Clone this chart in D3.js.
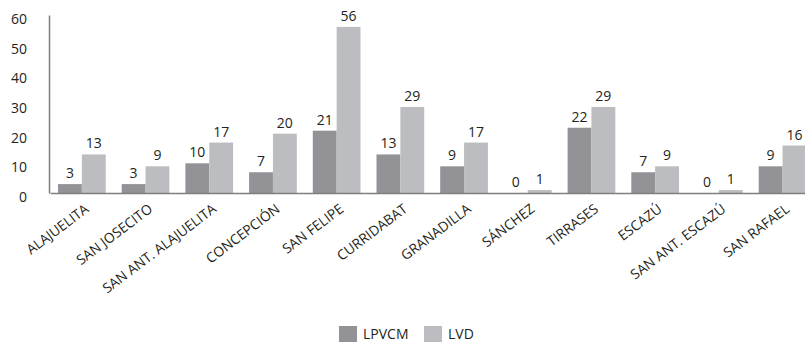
<!DOCTYPE html>
<html><head><meta charset="utf-8">
<script src="https://cdn.jsdelivr.net/npm/d3@7/dist/d3.min.js"></script>
<style>body{margin:0;background:#fff}svg{display:block}text{font-family:"Open Sans",sans-serif;fill:#231f20}</style>
</head><body><svg id="c" width="805" height="343"></svg>
<script>
const categories = ["ALAJUELITA","SAN JOSECITO","SAN ANT. ALAJUELITA","CONCEPCIÓN","SAN FELIPE","CURRIDABAT","GRANADILLA","SÁNCHEZ","TIRRASES","ESCAZÚ","SAN ANT. ESCAZÚ","SAN RAFAEL"];
const seriesNames = ["LPVCM","LVD"];
const lpvcm = [3,3,10,7,21,13,9,0,22,7,0,9];
const lvd = [13,9,17,20,56,29,17,1,29,9,1,16];
const yTicks = [0,10,20,30,40,50,60];
const colors = ["#939397","#bcbdc1"];

const svg = d3.select("#c");
const x0 = 50, y0 = 193, yTop = 15;
const x = d3.scaleBand().domain(categories).range([x0, x0 + 12*63.7]).paddingInner(0).paddingOuter(0);
const inner = 8;
const xs = d3.scaleBand().domain(seriesNames).range([inner, x.bandwidth()-inner]);
const y = d3.scaleLinear().domain([0,60]).range([y0, yTop]);
const series = [lpvcm, lvd];

series.forEach((vals, si) => {
  svg.append("g").selectAll("rect").data(vals).join("rect")
    .attr("x", (d,i) => x(categories[i]) + xs(seriesNames[si]))
    .attr("width", xs.bandwidth())
    .attr("y", d => y(d))
    .attr("height", d => y0 - y(d))
    .attr("fill", colors[si]);
  svg.append("g").selectAll("text").data(vals).join("text")
    .attr("x", (d,i) => x(categories[i]) + xs(seriesNames[si]) + xs.bandwidth()/2)
    .attr("y", d => y(d) - 6)
    .attr("text-anchor","middle")
    .attr("font-size", 14)
    .text(d => d);
});

const yAxis = svg.append("g").attr("transform", `translate(${x0-1},0)`)
  .call(d3.axisLeft(y).tickValues(yTicks).tickSize(0).tickPadding(22));
yAxis.select(".domain").attr("stroke","#7f7f7f").attr("stroke-width",1.5);
yAxis.selectAll("text").attr("font-size",14).attr("dy","0.6em").attr("fill","#231f20").attr("font-family","'Open Sans',sans-serif");

const xAxis = svg.append("g").attr("transform", `translate(0,${y0})`)
  .call(d3.axisBottom(x).tickSize(0).tickPadding(0));
xAxis.select(".domain").attr("stroke","#7f7f7f").attr("stroke-width",1.5);
xAxis.selectAll("text")
  .attr("font-size",13.8).attr("fill","#231f20").attr("font-family","'Open Sans',sans-serif")
  .attr("text-anchor","end")
  .attr("transform","translate(5,14) rotate(-37)")
  .attr("dy","0.35em");

const lg = svg.append("g");
const lx = [339, 424];
seriesNames.forEach((n, i) => {
  lg.append("rect").attr("x", lx[i]).attr("y", 326).attr("width", 18).attr("height", 16).attr("fill", colors[i]);
  lg.append("text").attr("x", lx[i] + 24).attr("y", 339).attr("font-size", 14).text(n);
});
</script></body></html>
